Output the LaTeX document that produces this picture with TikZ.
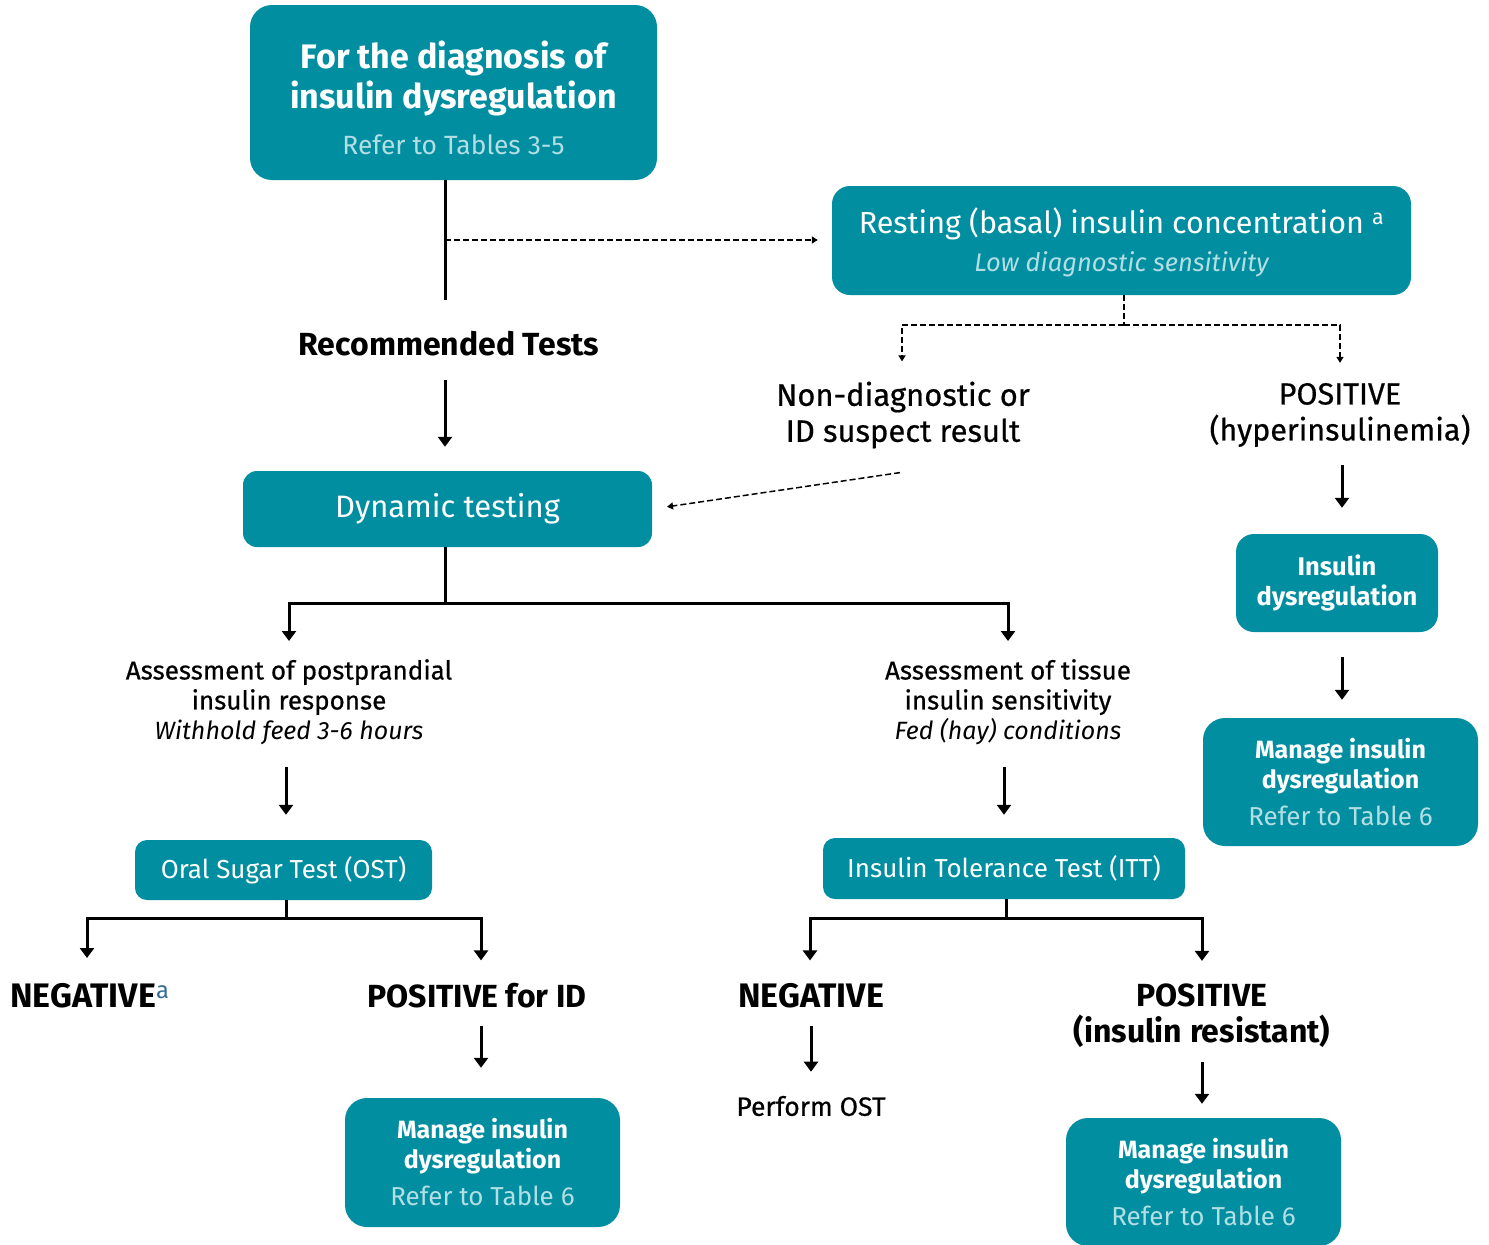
\documentclass[tikz,border=0pt]{standalone}
\usepackage{fontspec}
\setmainfont{Fira Sans}
\newfontfamily\medfont{Fira Sans}[FakeBold=0.6]
\usetikzlibrary{arrows.meta}
\definecolor{boxteal}{RGB}{0,142,160}
\definecolor{lighttxt}{RGB}{178,222,228}
\definecolor{supblue}{RGB}{52,110,150}
\begin{document}
\begin{tikzpicture}[x=1pt,y=-1pt,
  box/.style={fill=boxteal, rounded corners=22pt, text=white, align=center, inner sep=0pt},
  lbl/.style={align=center, inner sep=0pt, text=black},
  ln/.style={line width=3pt},
  arr/.style={line width=3pt, -{Triangle[length=10pt,width=14pt]}},
  dln/.style={line width=1.5pt, dash pattern=on 6pt off 3pt},
  darr/.style={line width=1.5pt, dash pattern=on 6pt off 3pt, -{Triangle[length=6pt,width=7pt]}},
  med/.style={font=\medfont\fontsize{26}{30}\selectfont},
  medbig/.style={font=\medfont\fontsize{31}{36}\selectfont},
  res/.style={font=\bfseries\fontsize{32}{36}\selectfont}]
\useasboundingbox (0,0) rectangle (1489,1245);

% ---- boxes ----
\node[box, minimum width=407pt, minimum height=175pt, font=\fontsize{26.4}{40}\selectfont] (top) at (453.5,92.5)
  {{\bfseries\fontsize{34}{40}\selectfont\rule{0pt}{39pt}For the diagnosis of}\\{\bfseries\fontsize{34}{40}\selectfont insulin dysregulation}\\[6pt]{\color{lighttxt}Refer to Tables 3-5}};
\node[box, minimum width=579pt, minimum height=109pt, rounded corners=18pt, font=\fontsize{25.5}{38}\selectfont] (rest) at (1121.5,240.5)
  {{\fontsize{30.5}{38}\selectfont\rule{0pt}{30pt}Resting (basal) insulin concentration \textsuperscript{a}}\\{\color{lighttxt}\itshape Low diagnostic sensitivity}};
\node[box, minimum width=409pt, minimum height=76pt, rounded corners=14pt, font=\fontsize{31}{36}\selectfont] (dyn) at (447.5,509) {Dynamic testing};
\node[box, minimum width=202pt, minimum height=98pt, rounded corners=18pt, font=\bfseries\fontsize{25.5}{30}\selectfont] (idb) at (1337,583) {Insulin\\dysregulation};
\node[box, minimum width=275pt, minimum height=128pt, rounded corners=22pt, font=\fontsize{26}{30}\selectfont] (manR) at (1340.5,782)
  {{\bfseries\fontsize{25}{30}\selectfont Manage insulin}\\{\bfseries\fontsize{25}{30}\selectfont dysregulation}\\[7pt]{\color{lighttxt}Refer to Table 6}};
\node[box, minimum width=297pt, minimum height=60pt, rounded corners=12pt, font=\fontsize{26}{30}\selectfont] (ost) at (283.5,870) {Oral Sugar Test (OST)};
\node[box, minimum width=362pt, minimum height=61pt, rounded corners=12pt, font=\fontsize{26}{30}\selectfont] (itt) at (1004,868.5) {Insulin Tolerance Test (ITT)};
\node[box, minimum width=275pt, minimum height=129pt, rounded corners=22pt, font=\fontsize{26}{30}\selectfont] (manM) at (482.5,1162.5)
  {{\bfseries\fontsize{25}{30}\selectfont Manage insulin}\\{\bfseries\fontsize{25}{30}\selectfont dysregulation}\\[7pt]{\color{lighttxt}Refer to Table 6}};
\node[box, minimum width=275pt, minimum height=128pt, rounded corners=22pt, font=\fontsize{26}{30}\selectfont] (manB) at (1203.5,1182)
  {{\bfseries\fontsize{25}{30}\selectfont Manage insulin}\\{\bfseries\fontsize{25}{30}\selectfont dysregulation}\\[7pt]{\color{lighttxt}Refer to Table 6}};

% ---- labels ----
\node[lbl, font=\bfseries\fontsize{32}{36}\selectfont] (rec) at (449,344) {Recommended Tests};
\node[lbl, medbig] (nond) at (903,415) {Non-diagnostic or\\ID suspect result};
\node[lbl, font=\medfont\fontsize{30.5}{36}\selectfont] (pos1) at (1340,415) {POSITIVE\\(hyperinsulinemia)};
\node[lbl, med] (ass1) at (289,702) {Assessment of postprandial\\insulin response\\{\fontfamily{\rmdefault}\itshape\fontsize{25}{30}\selectfont Withhold feed 3-6 hours}};
\node[lbl, med] (ass2) at (1008,702) {Assessment of tissue\\insulin sensitivity\\{\fontfamily{\rmdefault}\itshape\fontsize{25}{30}\selectfont Fed (hay) conditions}};
\node[lbl, anchor=west, font=\bfseries\fontsize{34}{36}\selectfont] (neg1) at (10,996) {NEGATIVE\textsuperscript{\color{supblue}\mdseries a}};
\node[lbl, res] (posid) at (477,996) {POSITIVE for ID};
\node[lbl, font=\bfseries\fontsize{34}{36}\selectfont] (neg2) at (811,996) {NEGATIVE};
\node[lbl, res] (pos2) at (1202,1016) {POSITIVE\\(insulin resistant)};
\node[lbl, font=\medfont\fontsize{26.5}{30}\selectfont] (perf) at (811,1106) {Perform OST};

% ---- connectors ----
\coordinate (t1) at (445,300);
\coordinate (t2) at (445,240);
\draw[ln] (t1 |- top.south) -- (t1);
\draw[darr, shorten >=14pt] (t2) -- (t2 -| rest.west);
\draw[arr, shorten <=23pt, shorten >=24pt] (rec.south -| t1) -- (dyn.north -| t1);

\coordinate (rj) at (1124,325);
\draw[dln] (rest.south -| rj) -- (rj);
\draw[darr, shorten >=20pt] (rj) -| ([xshift=-1pt]nond.north);
\draw[darr, shorten >=20pt] (rj) -| (pos1.north);
\draw[darr, shorten >=15pt] ([xshift=-3pt,yshift=-24pt]nond.south) -- (dyn.east);

\draw[arr, shorten <=18pt, shorten >=26pt] ([xshift=2pt]pos1.south) -- ([xshift=5pt]idb.north);
\draw[arr, shorten <=25pt, shorten >=18pt] ([xshift=5pt]idb.south) -- ([xshift=1.5pt]manR.north);

\coordinate (dj) at (445,603);
\draw[ln] (dyn.south -| dj) -- (dj);
\draw[arr, shorten >=18pt] (dj) -| (ass1.north);
\draw[arr, shorten >=18pt] (dj) -| (ass2.north);

\draw[arr, shorten <=22pt, shorten >=25pt] (ass1.south -| 286,0) -- (ost.north -| 286,0);
\draw[arr, shorten <=22pt, shorten >=23pt] (ass2.south -| itt.north) -- (itt.north);

\coordinate (oj) at (286,918);
\coordinate (n1t) at (87,958);
\draw[ln] (ost.south -| oj) -- (oj);
\draw[arr] (oj) -| (n1t);
\draw[arr, shorten >=23pt] (oj) -| ([xshift=4pt]posid.north);

\coordinate (ij) at (1006,918);
\draw[ln] (itt.south -| ij) -- (ij);
\draw[arr, shorten >=23pt] (ij) -| ([xshift=-1pt]neg2.north);
\draw[arr, shorten >=23pt] (ij) -| (pos2.north);

\draw[arr, shorten <=17pt, shorten >=30pt] ([xshift=4pt]posid.south) -- ([xshift=-1.5pt]manM.north);
\draw[arr, shorten <=17pt, shorten >=24pt] (neg2.south) -- (perf.north);
\draw[arr, shorten <=14pt, shorten >=14pt] (pos2.south) -- ([xshift=-1.5pt]manB.north);
\end{tikzpicture}
\end{document}
